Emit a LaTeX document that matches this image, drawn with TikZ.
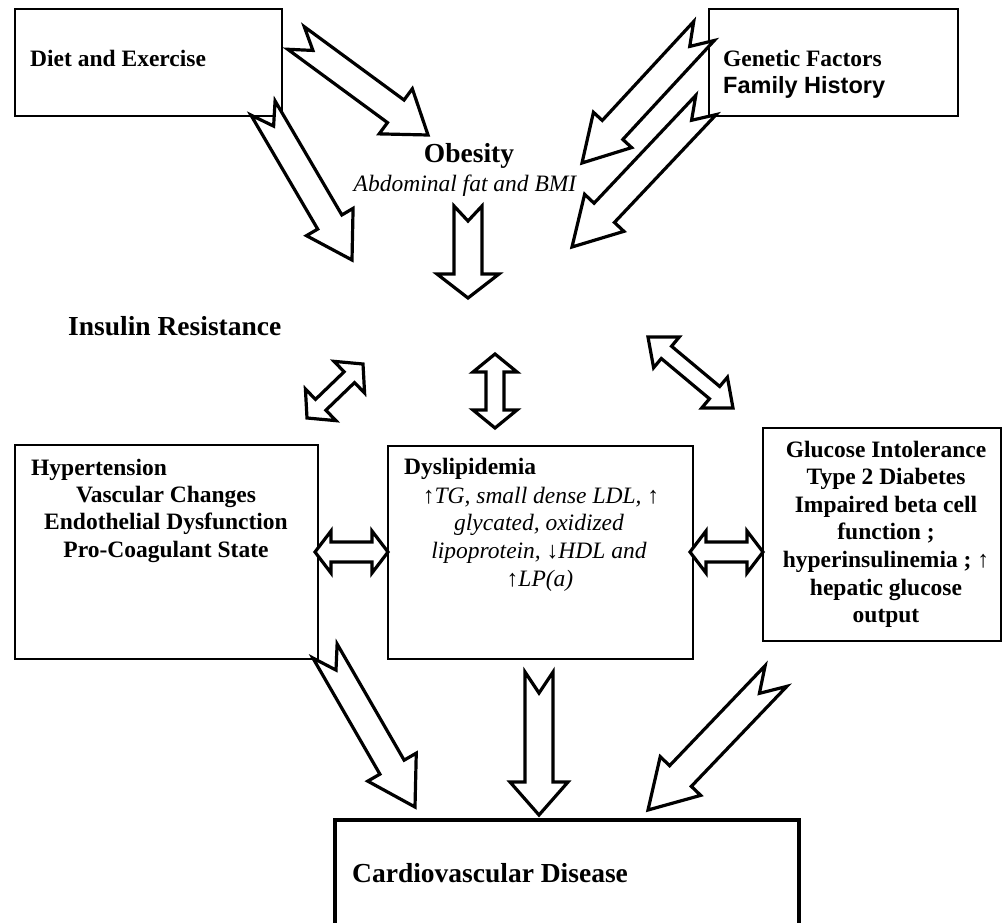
\documentclass[tikz,border=0pt]{standalone}
\usepackage{fontspec}
\setmainfont{Liberation Serif}
\newfontfamily\arialf{Liberation Sans}
\usetikzlibrary{calc}
\tikzset{
 boxst/.style={draw, line width=1.9pt, inner sep=0pt, anchor=north west},
 blk/.style={draw, line width=3.2pt, fill=white, line join=miter, miter limit=10},
 lbl/.style={inner sep=0pt, font=\fontsize{23.5}{27.5}\selectfont\bfseries},
 big/.style={inner sep=0pt, font=\fontsize{27.5}{30}\selectfont\bfseries},
 itl/.style={inner sep=0pt, font=\fontsize{23.5}{27.5}\selectfont\itshape},
}
% single block arrow with notched tail: #1 tail, #2 tip, #3 half shaft, #4 half head, #5 head length, #6 notch depth
\newcommand\blockarr[6]{%
 \coordinate (#1-J) at ($(#2)!#5pt!(#1)$);
 \draw[blk] ($(#1)!#3pt!90:(#2)$) -- ($(#1)!#6pt!(#2)$) -- ($(#1)!#3pt!-90:(#2)$)
   -- ($(#1-J)!#3pt!-90:(#2)$) -- ($(#1-J)!#4pt!-90:(#2)$) -- (#2)
   -- ($(#1-J)!#4pt!90:(#2)$) -- ($(#1-J)!#3pt!90:(#2)$) -- cycle;}
% double block arrow: #1 tip A, #2 tip B, #3 half shaft, #4 half head, #5 head length
\newcommand\dblarr[5]{%
 \coordinate (#1-J) at ($(#1)!#5pt!(#2)$);
 \coordinate (#2-J) at ($(#2)!#5pt!(#1)$);
 \draw[blk] (#1) -- ($(#1-J)!#4pt!90:(#2)$) -- ($(#1-J)!#3pt!90:(#2)$)
   -- ($(#2-J)!#3pt!-90:(#1)$) -- ($(#2-J)!#4pt!-90:(#1)$) -- (#2)
   -- ($(#2-J)!#4pt!90:(#1)$) -- ($(#2-J)!#3pt!90:(#1)$)
   -- ($(#1-J)!#3pt!-90:(#2)$) -- ($(#1-J)!#4pt!-90:(#2)$) -- cycle;}
\begin{document}
\begin{tikzpicture}[x=1pt,y=-1pt]
\useasboundingbox (0,0) rectangle (1002,923);
% boxes
\node[boxst, minimum width=267pt, minimum height=107pt] (diet) at (14,8) {};
\node[boxst, minimum width=249pt, minimum height=107pt] (gen) at (708,8) {};
\node[boxst, minimum width=303pt, minimum height=214pt] (hyp) at (14,444) {};
\node[boxst, minimum width=305pt, minimum height=213pt] (dys) at (387,445) {};
\node[boxst, minimum width=238pt, minimum height=213pt] (glu) at (762,427) {};
\node[boxst, line width=3.5pt, minimum width=464pt, minimum height=125pt] (cvd) at (333,818) {};
% texts
\node[lbl, anchor=base west] (dietT) at (30,67) {Diet and Exercise};
\node[lbl, anchor=base west] (genT) at (723,67) {Genetic Factors};
\node[inner sep=0pt, anchor=base west, font=\arialf\fontsize{23.5}{27.5}\selectfont\bfseries] (famT) at (723,93.5) {Family History};
\node[big, anchor=base] (obT) at (469,163) {Obesity};
\node[itl, anchor=base] (abT) at (465,192) {Abdominal fat and BMI};
\node[big, anchor=base west] (insT) at (68,335) {Insulin Resistance};
\node[lbl, anchor=base west] (hyp1) at (31,475) {Hypertension};
\node[lbl, anchor=base] (hyp2) at (166,502) {Vascular Changes};
\node[lbl, anchor=base] (hyp3) at (166,529.5) {Endothelial Dysfunction};
\node[lbl, anchor=base] (hyp4) at (166,557) {Pro-Coagulant State};
\node[lbl, anchor=base west] (dys1) at (404,474) {Dyslipidemia};
\node[itl, anchor=base] (dys2) at (541,503) {↑TG, small dense LDL, ↑};
\node[itl, anchor=base] (dys3) at (539,530.5) {glycated, oxidized};
\node[itl, anchor=base] (dys4) at (539,558) {lipoprotein, ↓HDL and};
\node[itl, anchor=base] (dys5) at (540,586) {↑LP(a)};
\node[lbl, anchor=base] (glu1) at (886,457) {Glucose Intolerance};
\node[lbl, anchor=base] (glu2) at (886,484) {Type 2 Diabetes};
\node[lbl, anchor=base] (glu3) at (886,512) {Impaired beta cell};
\node[lbl, anchor=base] (glu4) at (886,539) {function ;};
\node[lbl, anchor=base] (glu5) at (886,567) {hyperinsulinemia ; ↑};
\node[lbl, anchor=base] (glu6) at (886,595) {hepatic glucose};
\node[lbl, anchor=base] (glu7) at (886,622) {output};
\node[big, anchor=base west] (cvdT) at (352,882) {Cardiovascular Disease};
% arrow end points
\coordinate (a1t) at (296,38);  \coordinate (a1h) at (428,135);
\coordinate (a2t) at (263,108); \coordinate (a2h) at (352,260);
\coordinate (a3t) at (704,31);  \coordinate (a3h) at (582,163);
\coordinate (a4t) at (706,105); \coordinate (a4h) at (572,247);
\coordinate (a5t) at (468,206); \coordinate (a5h) at (468,298);
\coordinate (a6t) at (325,651); \coordinate (a6h) at (415,807);
\coordinate (a7t) at (539,672); \coordinate (a7h) at (539,815);
\coordinate (a8t) at (776,676); \coordinate (a8h) at (648,810);
\coordinate (d1a) at (307,418); \coordinate (d1b) at (363,364);
\coordinate (d2a) at (495,354); \coordinate (d2b) at (495,428);
\coordinate (d3a) at (648,337); \coordinate (d3b) at (733,408);
\coordinate (d4a) at (315,552); \coordinate (d4b) at (388,552);
\coordinate (d5a) at (690,552); \coordinate (d5b) at (763,552);
% arrows
\blockarr{a1t}{a1h}{14}{28}{40}{21}
\blockarr{a2t}{a2h}{14}{27}{44}{21}
\blockarr{a3t}{a3h}{14}{26}{45}{21}
\blockarr{a4t}{a4h}{14}{27}{47}{21}
\blockarr{a5t}{a5h}{14}{31}{24}{15}
\blockarr{a6t}{a6h}{14}{28}{46}{22}
\blockarr{a7t}{a7h}{14}{29}{33}{21}
\blockarr{a8t}{a8h}{15}{28}{47}{24}
\dblarr{d1a}{d1b}{7.5}{22}{19}
\dblarr{d2a}{d2b}{9}{22}{18}
\dblarr{d3a}{d3b}{8}{20}{24}
\dblarr{d4a}{d4b}{10}{21}{16}
\dblarr{d5a}{d5b}{10}{21}{16}
\end{tikzpicture}
\end{document}
